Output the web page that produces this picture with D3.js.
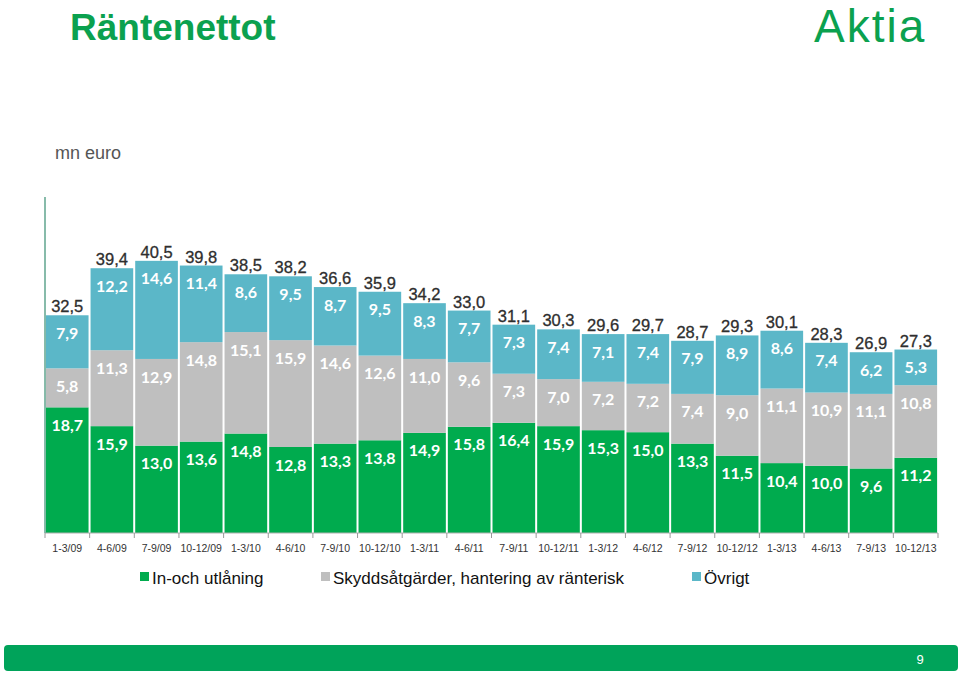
<!DOCTYPE html>
<html>
<head>
<meta charset="utf-8">
<script src="https://cdn.jsdelivr.net/npm/d3@7/dist/d3.min.js"></script>
<style>
  html, body { margin: 0; padding: 0; background: #fff; }
  svg { display: block; }
</style>
</head>
<body>
<svg id="chart" width="960" height="674"></svg>
<script>
const categories = ["1-3/09","4-6/09","7-9/09","10-12/09","1-3/10","4-6/10","7-9/10","10-12/10","1-3/11","4-6/11","7-9/11","10-12/11","1-3/12","4-6/12","7-9/12","10-12/12","1-3/13","4-6/13","7-9/13","10-12/13"];
const inOchUtlaning = [18.7,15.9,13.0,13.6,14.8,12.8,13.3,13.8,14.9,15.8,16.4,15.9,15.3,15.0,13.3,11.5,10.4,10.0,9.6,11.2];
const skyddsatgarder = [5.8,11.3,12.9,14.8,15.1,15.9,14.6,12.6,11.0,9.6,7.3,7.0,7.2,7.2,7.4,9.0,11.1,10.9,11.1,10.8];
const ovrigt = [7.9,12.2,14.6,11.4,8.6,9.5,8.7,9.5,8.3,7.7,7.3,7.4,7.1,7.4,7.9,8.9,8.6,7.4,6.2,5.3];
const totals = [32.5,39.4,40.5,39.8,38.5,38.2,36.6,35.9,34.2,33.0,31.1,30.3,29.6,29.7,28.7,29.3,30.1,28.3,26.9,27.3];
const seriesNames = ["In-och utlåning","Skyddsåtgärder, hantering av ränterisk","Övrigt"];
const seriesColors = ["#00AB4E","#BFBFBF","#5BB7C8"];

const fmt = v => d3.format(".1f")(v).replace(".", ",");

const svg = d3.select("#chart");

// Title and logo
svg.append("text").attr("x", 70).attr("y", 40)
  .attr("font-family", "Liberation Sans, Arial, sans-serif").attr("font-weight", "bold")
  .attr("font-size", 37).attr("fill", "#0BA14F").text("Räntenettot");
svg.append("text").attr("x", 814).attr("y", 42)
  .attr("font-family", "Liberation Sans, Arial, sans-serif")
  .attr("font-size", 46).attr("letter-spacing", 2).attr("fill", "#0BA14F").text("Aktia");
svg.append("text").attr("x", 55).attr("y", 159)
  .attr("font-family", "Liberation Sans, Arial, sans-serif")
  .attr("font-size", 18).attr("fill", "#555").text("mn euro");

// Scales
const x = d3.scaleBand().domain(categories).range([45, 938]).paddingInner(0.045).paddingOuter(0.02);
const y = d3.scaleLinear().domain([0, 50]).range([533, 197]);

const rows = categories.map((c, i) => ({cat: c, a: inOchUtlaning[i], b: skyddsatgarder[i], c2: ovrigt[i], total: totals[i]}));
const stack = d3.stack().keys(["a","b","c2"])(rows);

const g = svg.append("g");
stack.forEach((layer, li) => {
  const lg = g.append("g");
  lg.selectAll("rect").data(layer).join("rect")
    .attr("x", d => x(d.data.cat))
    .attr("width", x.bandwidth())
    .attr("y", d => y(d[1]))
    .attr("height", d => y(d[0]) - y(d[1]))
    .attr("fill", seriesColors[li]);
  lg.selectAll("text").data(layer).join("text")
    .attr("x", d => x(d.data.cat) + x.bandwidth() / 2)
    .attr("y", d => y(d[1]) + 18)
    .attr("dy", "0.35em")
    .attr("text-anchor", "middle")
    .attr("font-family", "Lato, Open Sans, sans-serif").attr("font-weight", "bold")
    .attr("font-size", 16).attr("fill", "#fff")
    .text(d => fmt(d[1] - d[0]));
});

// Totals
g.append("g").selectAll("text").data(rows).join("text")
  .attr("x", d => x(d.cat) + x.bandwidth() / 2)
  .attr("y", d => y(d.a + d.b + d.c2) - 3)
  .attr("text-anchor", "middle")
  .attr("font-family", "Liberation Sans, Arial, sans-serif")
  .attr("font-size", 16.5).attr("fill", "#2e2e2e")
  .attr("stroke", "#2e2e2e").attr("stroke-width", 0.3)
  .text(d => fmt(d.total));

// X axis
const xAxis = svg.append("g").attr("transform", "translate(0,533)");
xAxis.append("line").attr("x1", 45).attr("x2", 938).attr("stroke", "#b0b0b0");
const bounds = d3.range(categories.length + 1).map(i => 45 + i * (893 / categories.length));
xAxis.selectAll("line.tick").data(bounds).join("line").attr("class", "tick")
  .attr("x1", d => d).attr("x2", d => d).attr("y1", 0).attr("y2", 5).attr("stroke", "#999");
xAxis.selectAll("text").data(categories).join("text")
  .attr("x", d => x(d) + x.bandwidth() / 2)
  .attr("y", 19)
  .attr("text-anchor", "middle")
  .attr("font-family", "Liberation Sans, Arial, sans-serif")
  .attr("font-size", 10.5).attr("fill", "#333")
  .text(d => d);

// Y axis line
svg.append("line").attr("x1", 45).attr("x2", 45).attr("y1", y(50)).attr("y2", y(0))
  .attr("stroke", "#5FA58E").attr("stroke-width", 1.5);

// Legend
const legendX = [140, 321, 692];
const leg = svg.append("g");
seriesNames.forEach((n, i) => {
  leg.append("rect").attr("x", legendX[i]).attr("y", 572).attr("width", 9).attr("height", 9).attr("fill", seriesColors[i]);
  leg.append("text").attr("x", legendX[i] + 12).attr("y", 584)
    .attr("font-family", "Liberation Sans, Arial, sans-serif")
    .attr("font-size", 17).attr("fill", "#111").text(n);
});

// Footer
svg.append("rect").attr("x", 4).attr("y", 645).attr("width", 954).attr("height", 26).attr("rx", 4)
  .attr("fill", "#00A35A");
svg.append("text").attr("x", 920).attr("y", 664).attr("text-anchor", "middle")
  .attr("font-family", "Liberation Sans, Arial, sans-serif")
  .attr("font-size", 13).attr("fill", "#fff").text("9");
</script>
</body>
</html>
